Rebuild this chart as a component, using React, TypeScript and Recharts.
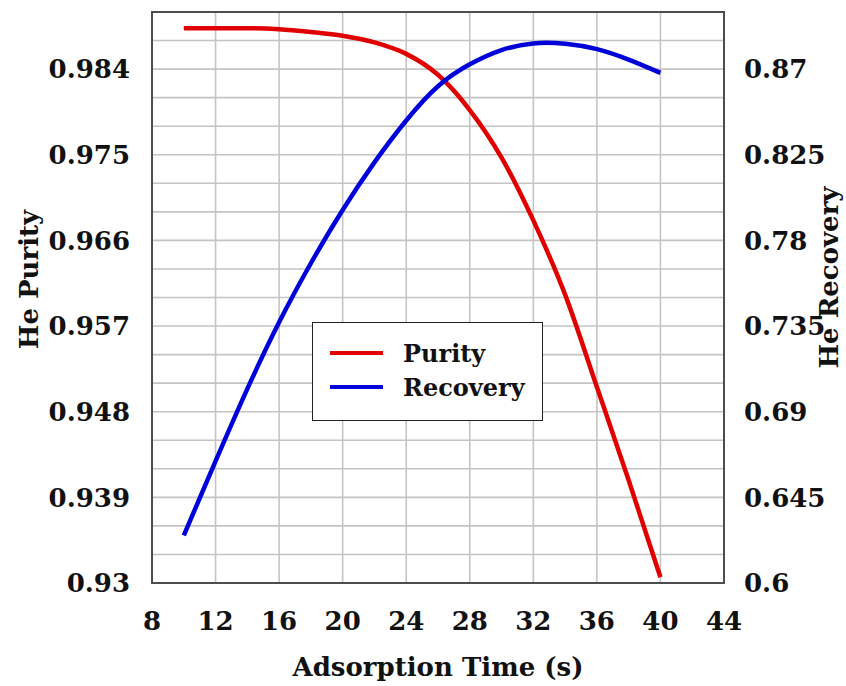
import React from 'react';
import { LineChart, Line, XAxis, YAxis, CartesianGrid, Legend, ReferenceArea } from 'recharts';

// Adsorption time (s) sampled every 2 s
const adsorptionTime = [10, 12, 14, 16, 18, 20, 22, 24, 26, 28, 30, 32, 34, 36, 38, 40];
const hePurity = [
  0.9883, 0.9883, 0.9883, 0.9882, 0.9879, 0.9875, 0.9868, 0.9856,
  0.9834, 0.9797, 0.9747, 0.9681, 0.9603, 0.9506, 0.9408, 0.9306,
];
const heRecovery = [
  0.625, 0.664, 0.702, 0.737, 0.768, 0.796, 0.821, 0.843,
  0.861, 0.8725, 0.880, 0.8835, 0.8833, 0.8805, 0.875, 0.868,
];

const timeTicks = [8, 12, 16, 20, 24, 28, 32, 36, 40, 44];
const purityTicks = [0.93, 0.939, 0.948, 0.957, 0.966, 0.975, 0.984];
const recoveryTicks = [0.6, 0.645, 0.69, 0.735, 0.78, 0.825, 0.87];

// minor gridlines every 0.003 on the purity axis, labels only on every third
const purityGrid = Array.from({ length: 21 }, (_, i) => Number((0.93 + i * 0.003).toFixed(3)));

const data = adsorptionTime.map((t, i) => ({ t, purity: hePurity[i], recovery: heRecovery[i] }));

const FONT = '"DejaVu Serif", serif';
const tickStyle = { fill: '#111', fontSize: 26, fontWeight: 700, fontFamily: FONT };
const titleStyle = { fill: '#111', fontSize: 26, fontWeight: 700, fontFamily: FONT };

const purityTitle = (props: any) => {
  const { viewBox } = props;
  const x = viewBox.x + 38;
  const y = viewBox.y + viewBox.height / 2 - 18;
  return (
    <text x={x} y={y} transform={`rotate(-90, ${x}, ${y})`} textAnchor="middle" style={titleStyle}>
      He Purity
    </text>
  );
};

const recoveryTitle = (props: any) => {
  const { viewBox } = props;
  const x = viewBox.x + 114;
  const y = viewBox.y + viewBox.height / 2 - 20;
  return (
    <text x={x} y={y} transform={`rotate(-90, ${x}, ${y})`} textAnchor="middle" style={titleStyle}>
      He Recovery
    </text>
  );
};

const timeTitle = (props: any) => {
  const { viewBox } = props;
  return (
    <text x={viewBox.x + viewBox.width / 2} y={viewBox.y + 93} textAnchor="middle" style={titleStyle}>
      Adsorption Time (s)
    </text>
  );
};

const renderLegend = (props: any) => (
  <div
    style={{
      width: 231,
      height: 99,
      boxSizing: 'border-box',
      border: '1.5px solid #222',
      background: '#fff',
      paddingTop: 13,
      fontFamily: FONT,
      fontWeight: 700,
      fontSize: 24,
      color: '#111',
    }}
  >
    {props.payload.map((item: any) => (
      <div key={item.value} style={{ display: 'flex', alignItems: 'center', height: 34 }}>
        <span style={{ display: 'inline-block', width: 53, height: 4.5, background: item.color, marginLeft: 17, marginRight: 20 }} />
        <span>{item.value}</span>
      </div>
    ))}
  </div>
);

export default function App() {
  return (
    <div style={{ position: 'absolute', left: 0, top: 0, width: 846, height: 686, background: '#fff' }}>
      <LineChart width={846} height={686} data={data} margin={{ top: 12, right: 0, bottom: 0, left: 0 }}>
        <CartesianGrid yAxisId="purity" stroke="#c4c4c4" strokeWidth={1.6} />
        <XAxis
          dataKey="t"
          type="number"
          domain={[8, 44]}
          ticks={timeTicks}
          height={103}
          tickSize={0}
          tickMargin={29}
          axisLine={false}
          tickLine={false}
          tick={tickStyle}
          label={timeTitle}
        />
        <YAxis
          yAxisId="purity"
          domain={[0.93, 0.99]}
          ticks={purityGrid}
          tickFormatter={(v: number) => (purityTicks.includes(v) ? String(v) : '')}
          width={152}
          tickSize={0}
          tickMargin={22}
          axisLine={false}
          tickLine={false}
          tick={tickStyle}
          interval={0}
          label={purityTitle}
        />
        <YAxis
          yAxisId="recovery"
          orientation="right"
          domain={[0.6, 0.9]}
          ticks={recoveryTicks}
          width={122}
          tickSize={0}
          tickMargin={20}
          axisLine={false}
          tickLine={false}
          tick={{ ...tickStyle, textAnchor: 'start' }}
          interval={0}
          label={recoveryTitle}
        />
        <ReferenceArea
          yAxisId="purity"
          x1={8}
          x2={44}
          y1={0.93}
          y2={0.99}
          fill="none"
          stroke="#4d4d4d"
          strokeWidth={2}
          ifOverflow="visible"
        />
        <Legend
          layout="vertical"
          align="center"
          verticalAlign="middle"
          content={renderLegend}
          wrapperStyle={{ left: 312, top: 322, width: 231, height: 99 }}
        />
        <Line
          yAxisId="purity"
          type="monotone"
          dataKey="purity"
          name="Purity"
          stroke="#e10000"
          strokeWidth={4.5}
          dot={false}
          isAnimationActive={false}
        />
        <Line
          yAxisId="recovery"
          type="natural"
          dataKey="recovery"
          name="Recovery"
          stroke="#0000d8"
          strokeWidth={4.5}
          dot={false}
          isAnimationActive={false}
        />
      </LineChart>
    </div>
  );
}
